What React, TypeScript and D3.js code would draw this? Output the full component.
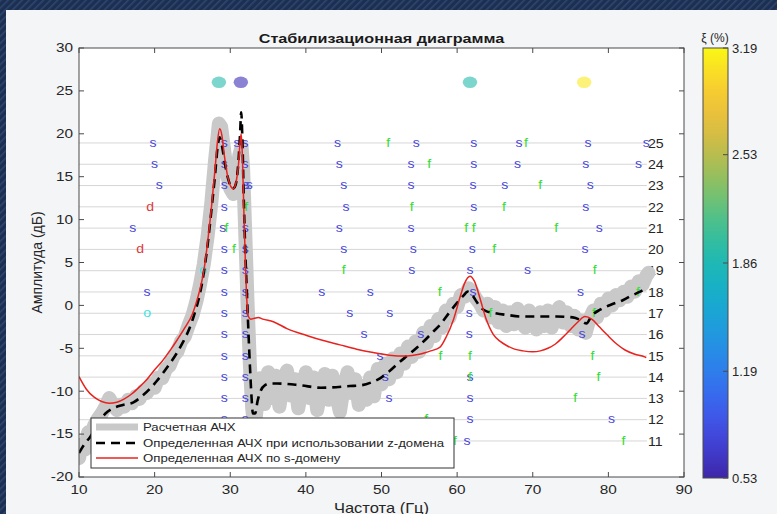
import React from "react";
import * as d3 from "d3";

const FONT = "'Liberation Sans', Arial, Helvetica, sans-serif";

// ---------- data ----------
const xTickValues = [10, 20, 30, 40, 50, 60, 70, 80, 90];
const yTickValues = [-20, -15, -10, -5, 0, 5, 10, 15, 20, 25, 30];
const modelOrders = [11, 12, 13, 14, 15, 16, 17, 18, 19, 20, 21, 22, 23, 24, 25];
const colorbarTicks = [0.53, 1.19, 1.86, 2.53, 3.19];
const dampingRange = [0.53, 3.19];

// measured FRF (noisy, thick grey)
const measuredResponse: [number, number][] = [
  [10.0, -17.8], [10.4, -16.2], [10.8, -16.8], [11.2, -14.8], [11.6, -15.2], [12.0, -14.0],
  [12.5, -13.2], [13.0, -12.6], [13.5, -11.8], [14.0, -10.8], [14.5, -11.6], [15.0, -12.2],
  [15.5, -11.6], [16.0, -11.8], [16.5, -11.0], [17.0, -11.4], [17.5, -10.6], [18.0, -10.9],
  [18.5, -10.0], [19.0, -10.2], [19.5, -9.2], [20.0, -9.6], [20.5, -8.4], [21.0, -8.5],
  [21.5, -7.4], [22.0, -7.0], [22.5, -5.9], [23.0, -5.4], [23.5, -4.2], [24.0, -3.6],
  [24.5, -2.3], [25.0, -1.2], [25.5, 0.4], [26.0, 2.4], [26.5, 4.8], [27.0, 8.0],
  [27.5, 12.0], [28.0, 17.0], [28.5, 21.2], [28.8, 20.8], [29.2, 18.0], [29.6, 15.2],
  [30.0, 13.6], [30.4, 13.0], [30.8, 14.2], [31.2, 17.5], [31.5, 18.5], [31.7, 16.0],
  [32.0, 8.0], [32.3, 0.0], [32.6, -7.0], [32.9, -12.0], [33.2, -14.5], [33.5, -12.0],
  [34.0, -8.5], [34.5, -11.5], [35.0, -7.8], [35.5, -10.8], [36.0, -8.2], [36.5, -11.8],
  [37.0, -9.0], [37.5, -7.6], [38.0, -10.5], [38.5, -8.6], [39.0, -12.0], [39.5, -9.5],
  [40.0, -7.8], [40.5, -10.8], [41.0, -8.4], [41.5, -12.2], [42.0, -9.8], [42.5, -8.0],
  [43.0, -11.0], [43.5, -8.2], [44.0, -10.4], [44.5, -12.4], [45.0, -9.6], [45.5, -7.8],
  [46.0, -10.2], [46.5, -8.6], [47.0, -11.6], [47.5, -9.4], [48.0, -11.0], [48.5, -8.4],
  [49.0, -10.6], [49.5, -7.4], [50.0, -9.2], [50.5, -6.8], [51.0, -8.6], [51.5, -6.2],
  [52.0, -7.8], [52.5, -5.6], [53.0, -6.8], [53.5, -4.8], [54.0, -6.0], [54.5, -4.2],
  [55.0, -5.4], [55.5, -3.2], [56.0, -4.4], [56.5, -2.4], [57.0, -3.6], [57.5, -1.6],
  [58.0, -2.6], [58.5, -0.6], [59.0, -1.4], [59.5, 0.2], [60.0, -0.2], [60.5, 1.2],
  [61.0, 1.0], [61.5, 2.0], [62.0, 1.6], [62.5, 0.8], [63.0, 0.2], [63.5, -0.6],
  [64.0, 0.2], [64.5, -1.4], [65.0, -0.2], [65.5, -2.0], [66.0, -0.6], [66.5, -2.4],
  [67.0, -0.8], [67.5, -2.2], [68.0, -0.4], [68.5, -2.0], [69.0, -2.6], [69.5, -0.6],
  [70.0, -1.8], [70.5, -2.8], [71.0, -0.8], [71.5, -2.4], [72.0, -0.6], [72.5, -2.6],
  [73.0, -1.0], [73.5, -0.2], [74.0, -2.0], [74.5, -0.8], [75.0, -2.4], [75.5, -1.2],
  [76.0, -2.8], [76.5, -1.8], [77.0, -3.2], [77.5, -1.6], [78.0, -0.6], [78.5, -1.4],
  [79.0, 0.2], [79.5, -0.6], [80.0, 0.8], [80.5, 0.0], [81.0, 1.2], [81.5, 0.6],
  [82.0, 1.6], [82.5, 1.0], [83.0, 2.2], [83.5, 1.6], [84.0, 2.8], [84.5, 2.4],
  [85.0, 3.4], [85.3, 3.8],
];

// identified FRF, z-domain (black dashed)
const zDomainResponse: [number, number][] = [
  [10.0, -17.2], [10.7, -16.2], [11.5, -15.3], [12.5, -13.8], [13.5, -12.6], [14.5, -12.0],
  [15.8, -11.6], [17.2, -11.3], [18.3, -10.6], [19.4, -9.7], [20.2, -8.9], [21.1, -7.9],
  [22.0, -6.8], [22.9, -5.6], [23.8, -4.2], [24.6, -2.7], [25.3, -0.9], [25.9, 1.0],
  [26.5, 3.8], [27.0, 7.0], [27.5, 11.0], [28.0, 15.3], [28.35, 18.6], [28.6, 19.6],
  [28.9, 18.6], [29.3, 16.5], [29.8, 14.5], [30.3, 13.6], [30.6, 13.8], [30.9, 15.0],
  [31.1, 17.0], [31.3, 20.0], [31.45, 22.5], [31.6, 19.5], [31.8, 12.0], [32.0, 6.0],
  [32.2, 1.5], [32.4, -3.0], [32.6, -7.0], [32.8, -10.5], [33.0, -12.6], [33.3, -12.6],
  [33.6, -11.2], [34.0, -10.0], [34.6, -9.3], [35.3, -9.1], [36.2, -9.1], [39.2, -9.3],
  [42.0, -9.6], [45.8, -9.4], [47.4, -9.3], [48.6, -9.0], [49.8, -8.5], [51.0, -7.7],
  [52.4, -6.6], [53.5, -5.8], [54.7, -4.9], [55.8, -4.0], [56.8, -3.1], [57.8, -2.2],
  [59.0, -0.8], [59.9, 0.2], [60.8, 1.1], [61.4, 1.6], [62.0, 1.2], [62.6, 0.4],
  [63.2, -0.3], [63.9, -0.7], [65.0, -0.9], [66.5, -1.1], [68.7, -1.3], [71.0, -1.3],
  [73.2, -1.3], [75.3, -1.4], [76.3, -1.7], [77.1, -2.1], [77.8, -1.2], [78.9, -0.5],
  [80.4, 0.1], [81.9, 0.6], [83.2, 1.2], [84.2, 1.6], [85.0, 2.0],
];

// identified FRF, s-domain (red)
const sDomainResponse: [number, number][] = [
  [10.0, -8.3], [11.0, -9.8], [12.0, -10.7], [13.0, -11.2], [14.0, -11.4], [15.0, -11.3],
  [16.0, -10.9], [17.0, -10.3], [18.0, -9.5], [19.0, -8.6], [20.0, -7.5], [21.0, -6.5],
  [22.0, -5.3], [23.0, -4.0], [24.0, -2.6], [25.0, -1.0], [25.5, 0.3], [26.0, 1.9],
  [26.5, 4.0], [27.0, 7.3], [27.5, 11.3], [28.0, 16.0], [28.3, 19.0], [28.6, 20.6],
  [28.9, 19.8], [29.2, 17.6], [29.6, 15.3], [30.0, 14.0], [30.4, 13.6], [30.8, 14.5],
  [31.1, 16.5], [31.3, 19.0], [31.45, 20.0], [31.6, 17.5], [31.8, 11.0], [32.0, 5.0],
  [32.2, 0.5], [32.4, -1.3], [32.7, -1.6], [33.2, -1.5], [33.7, -1.4], [34.3, -1.6],
  [35.7, -1.9], [37.5, -2.7], [40.1, -3.5], [42.3, -4.1], [44.5, -4.6], [46.7, -5.1],
  [48.9, -5.5], [51.0, -5.8], [53.3, -5.9], [55.0, -5.7], [56.5, -5.3], [57.7, -4.9],
  [58.6, -3.6], [59.5, -1.7], [60.4, 1.0], [61.0, 2.6], [61.7, 3.4], [62.3, 2.8],
  [63.0, 0.9], [63.8, -1.5], [64.8, -3.4], [65.7, -4.2], [66.6, -4.7], [67.6, -5.1],
  [68.7, -5.3], [70.0, -5.4], [71.0, -5.3], [72.0, -5.0], [73.0, -4.5], [74.0, -3.7],
  [75.0, -2.8], [76.0, -1.9], [76.9, -1.3], [77.8, -1.6], [78.8, -2.5], [79.8, -3.4],
  [81.1, -4.5], [82.2, -5.2], [83.5, -5.7], [84.8, -6.0], [85.0, -6.1],
];

// stabilization markers: [frequency Hz, model order]
const stableS: [number, number][] = [
  [19.8, 25], [29.2, 25], [30.9, 25], [31.95, 25], [44.2, 25], [54.6, 25], [62.2, 25], [68.2, 25], [77.3, 25], [85.0, 25],
  [20.0, 24], [29.2, 24], [31.95, 24], [44.4, 24], [53.9, 24], [62.2, 24], [68.0, 24], [77.0, 24], [84.0, 24],
  [20.6, 23], [29.2, 23], [32.1, 23], [32.5, 23], [45.0, 23], [53.9, 23], [62.1, 23], [66.3, 23], [77.6, 23],
  [29.2, 22], [45.3, 22], [62.2, 22], [77.0, 22],
  [17.1, 21], [29.0, 21], [32.0, 21], [44.4, 21], [53.9, 21], [78.8, 21],
  [29.2, 20], [32.0, 20], [45.0, 20], [54.2, 20], [62.0, 20], [76.9, 20],
  [29.2, 19], [32.0, 19], [54.0, 19], [61.7, 19], [69.3, 19],
  [19.0, 18], [29.2, 18], [32.0, 18], [42.1, 18], [48.5, 18], [62.1, 18], [76.3, 18],
  [29.2, 17], [32.0, 17], [45.8, 17], [51.1, 17], [61.6, 17],
  [29.2, 16], [32.0, 16], [47.7, 16], [55.2, 16], [61.6, 16], [76.5, 16],
  [29.2, 15], [32.0, 15], [49.8, 15],
  [29.2, 14], [32.0, 14], [50.5, 14], [61.7, 14],
  [29.2, 13], [32.0, 13], [51.0, 13], [61.7, 13],
  [29.2, 12], [32.0, 12], [61.7, 12], [80.4, 12],
  [29.2, 11], [32.0, 11], [61.3, 11],
];
const stableF: [number, number][] = [
  [50.9, 25], [69.1, 25],
  [56.3, 24],
  [71.0, 23],
  [32.1, 22], [54.0, 22], [66.2, 22],
  [29.5, 21], [61.2, 21], [62.2, 21], [73.1, 21],
  [30.5, 20], [64.9, 20],
  [45.0, 19], [78.2, 19],
  [57.7, 18], [83.9, 18],
  [64.4, 17], [78.1, 17],
  [57.8, 15], [61.7, 15], [77.9, 15],
  [61.7, 14], [78.7, 14],
  [75.6, 13],
  [55.9, 12],
  [59.7, 11], [82.0, 11],
];
const stableD: [number, number][] = [[19.4, 22], [18.1, 20]];
const stableO: [number, number][] = [[26.4, 19], [19.0, 17]];

// identified modes shown on top, coloured by damping ratio
const modeFreq = [28.5, 31.4, 61.7, 76.8];
const modeDamping = [1.9, 0.6, 1.9, 3.1];
const modeLevel = 26;

// parula-like colormap
const parulaStops = ["#3e26a8", "#4550ef", "#2d7ff0", "#1aa5d8", "#12bab8", "#5ac47f", "#bdbc48", "#fdbb3a", "#f9f815"];

// ---------- layout ----------
const W = 777;
const H = 514;
const P = { left: 79, right: 684, top: 48, bottom: 477 };
const CB = { left: 703, right: 728, top: 48, bottom: 478 };

const x = d3.scaleLinear().domain([10, 90]).range([P.left, P.right]);
const y = d3.scaleLinear().domain([-20, 30]).range([P.bottom, P.top]);
const orderDb = d3.scaleLinear().domain([11, 25]).range([-15.8, 18.93]);
const orderLineEnd = 85.1;
const cbY = d3.scaleLinear().domain(dampingRange).range([CB.bottom, CB.top]);
const parula = d3.interpolateRgbBasis(parulaStops);
const dampColor = d3.scaleSequential(parula).domain(dampingRange);

const lineGen = d3.line<[number, number]>().x((d) => x(d[0])).y((d) => y(d[1]));
const smoothLine = d3.line<[number, number]>().x((d) => x(d[0])).y((d) => y(d[1])).curve(d3.curveMonotoneX);

const T = ({ x: tx, y: ty, sx = 1, size = 12, anchor = "start", weight = "normal", fill = "#262626", rotate = 0, children }: any) => (
  <text
    transform={`translate(${tx},${ty})${rotate ? ` rotate(${rotate})` : ""} scale(${sx},1)`}
    fontSize={size}
    fontFamily={FONT}
    textAnchor={anchor}
    fontWeight={weight}
    fill={fill}
  >
    {children}
  </text>
);

const Marker = ({ pts, ch, color }: { pts: [number, number][]; ch: string; color: string }) => (
  <g>
    {pts.map((p, i) => (
      <T key={i} x={x(p[0])} y={y(orderDb(p[1])) + 3.7} sx={1.1} size={12.8} anchor="middle" fill={color}>
        {ch}
      </T>
    ))}
  </g>
);

export default function App() {
  const gradStops = d3.range(0, 1.0001, 0.05);
  return (
    <svg width={W} height={H} style={{ position: "absolute", left: 0, top: 0, display: "block" }}>
      <defs>
        <pattern id="stripes" width="5" height="5" patternUnits="userSpaceOnUse" patternTransform="rotate(45)">
          <rect width="5" height="5" fill="#1c2f50" />
          <rect width="1.6" height="5" fill="#2d4670" />
        </pattern>
        <linearGradient id="cbgrad" x1="0" y1="1" x2="0" y2="0">
          {gradStops.map((t, i) => (
            <stop key={i} offset={t} stopColor={parula(t)} />
          ))}
        </linearGradient>
        <clipPath id="plotclip">
          <rect x={P.left} y={P.top} width={P.right - P.left} height={P.bottom - P.top} />
        </clipPath>
      </defs>

      {/* background */}
      <rect width={W} height={H} fill="url(#stripes)" />
      <rect x={6} y={10} width={W - 6} height={H - 10} fill="#f4f5f7" />
      <rect x={P.left} y={P.top} width={P.right - P.left} height={P.bottom - P.top} fill="#ffffff" />

      {/* order lines */}
      <g>
        {modelOrders.map((o) => (
          <g key={o}>
            <line x1={x(10)} x2={x(orderLineEnd)} y1={y(orderDb(o))} y2={y(orderDb(o))} stroke="#d6d6d6" strokeWidth={1} />
            <T x={x(orderLineEnd) + 1} y={y(orderDb(o)) + 4.8} size={13.5} sx={1.05} fill="#262626">
              {o}
            </T>
          </g>
        ))}
      </g>

      {/* curves */}
      <g clipPath="url(#plotclip)">
        <path d={lineGen(measuredResponse) || ""} fill="none" stroke="#c9c9c9" strokeWidth={14} strokeLinejoin="round" strokeLinecap="round" />
      </g>

      {/* stabilization markers */}
      <Marker pts={stableS} ch="s" color="#4343dc" />
      <Marker pts={stableF} ch="f" color="#33dd33" />
      <Marker pts={stableD} ch="d" color="#e03a3a" />
      <Marker pts={stableO} ch="o" color="#3de3e3" />

      <g clipPath="url(#plotclip)">
        <path d={smoothLine(zDomainResponse) || ""} fill="none" stroke="#000" strokeWidth={2.6} strokeDasharray="9,6" />
        <path d={smoothLine(sDomainResponse) || ""} fill="none" stroke="#e8231f" strokeWidth={1.5} />
      </g>

      {/* mode circles */}
      {modeFreq.map((f, i) => (
        <ellipse key={i} cx={x(f)} cy={y(modeLevel)} rx={7.2} ry={5.8} fill={dampColor(modeDamping[i])} fillOpacity={0.6} />
      ))}

      {/* axes box & ticks */}
      <rect x={P.left} y={P.top} width={P.right - P.left} height={P.bottom - P.top} fill="none" stroke="#4a4a4a" strokeWidth={1} />
      {xTickValues.map((v) => (
        <g key={v}>
          <line x1={x(v)} x2={x(v)} y1={P.bottom} y2={P.bottom - 5} stroke="#4a4a4a" />
          <line x1={x(v)} x2={x(v)} y1={P.top} y2={P.top + 5} stroke="#4a4a4a" />
          <T x={x(v)} y={P.bottom + 17} size={12} sx={1.28} anchor="middle">
            {v}
          </T>
        </g>
      ))}
      {yTickValues.map((v) => (
        <g key={v}>
          <line x1={P.left} x2={P.left + 5} y1={y(v)} y2={y(v)} stroke="#4a4a4a" />
          <line x1={P.right} x2={P.right - 5} y1={y(v)} y2={y(v)} stroke="#4a4a4a" />
          <T x={P.left - 6} y={y(v) + 4.3} size={12} sx={1.28} anchor="end">
            {v}
          </T>
        </g>
      ))}

      {/* titles */}
      <T x={(P.left + P.right) / 2} y={43} size={13.5} sx={1.2} anchor="middle" weight="bold" fill="#1a1a1a">
        Стабилизационная диаграмма
      </T>
      <T x={(P.left + P.right) / 2} y={513} size={14} sx={1.18} anchor="middle">
        Частота (Гц)
      </T>
      <T x={42} y={(P.top + P.bottom) / 2} size={14} anchor="middle" rotate={-90}>
        Амплитуда (дБ)
      </T>

      {/* legend */}
      <g transform="translate(91,418)">
        <rect x={0} y={0} width={363} height={50} fill="#ffffff" stroke="#333" strokeWidth={1} />
        <line x1={5} x2={47} y1={9} y2={9} stroke="#c9c9c9" strokeWidth={7} />
        <line x1={5} x2={47} y1={25} y2={25} stroke="#000" strokeWidth={2.6} strokeDasharray="9,6" />
        <line x1={5} x2={47} y1={40} y2={40} stroke="#e8231f" strokeWidth={1.5} />
        <T x={52} y={13} size={11} sx={1.2}>Расчетная АЧХ</T>
        <T x={52} y={29} size={11} sx={1.2}>Определенная АЧХ при использовании z-домена</T>
        <T x={52} y={44} size={11} sx={1.2}>Определенная АЧХ по s-домену</T>
      </g>

      {/* colorbar */}
      <rect x={CB.left} y={CB.top} width={CB.right - CB.left} height={CB.bottom - CB.top} fill="url(#cbgrad)" stroke="#4a4a4a" strokeWidth={1} />
      {colorbarTicks.map((v) => (
        <g key={v}>
          <line x1={CB.right} x2={CB.right - 5} y1={cbY(v)} y2={cbY(v)} stroke="#4a4a4a" />
          <T x={CB.right + 4} y={cbY(v) + 4.5} size={13}>
            {v.toFixed(2)}
          </T>
        </g>
      ))}
      <T x={715} y={42} size={12} anchor="middle">ξ (%)</T>
    </svg>
  );
}
